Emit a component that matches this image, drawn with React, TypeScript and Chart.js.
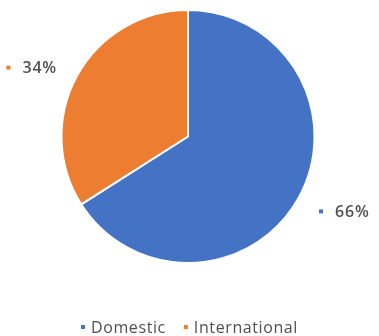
import React, { useEffect, useRef } from "react";
import { Chart, registerables } from "chart.js";
Chart.register(...registerables);

const categories = ["Domestic", "International"];
const values = [66, 34];
const valueLabels = ["66%", "34%"];
const colors = ["#4472C4", "#ED7D31"];

const FONT = "'Open Sans', Lato, sans-serif";

const labelPlugin = {
  id: "outLabels",
  afterDraw(chart: any) {
    const ctx = chart.ctx;
    const meta = chart.getDatasetMeta(0);
    ctx.save();
    ctx.font = `600 16px ${FONT}`;
    (ctx as any).letterSpacing = "0.8px";
    ctx.textBaseline = "middle";
    meta.data.forEach((arc: any, i: number) => {
      const mid = (arc.startAngle + arc.endAngle) / 2;
      const cx = arc.x + Math.cos(mid) * arc.outerRadius * 1.41;
      const cy = arc.y + Math.sin(mid) * arc.outerRadius * 1.18 + 3;
      const text = valueLabels[i];
      const tw = ctx.measureText(text).width;
      const total = 4 + 12 + tw;
      const x0 = cx - total / 2;
      ctx.fillStyle = colors[i];
      ctx.fillRect(x0, cy - 2, 4, 4);
      ctx.fillStyle = "#505050";
      ctx.textAlign = "left";
      ctx.fillText(text, x0 + 16, cy + 1);
    });
    // legend
    const ly = 327;
    ctx.font = `16px ${FONT}`;
    (ctx as any).letterSpacing = "0.6px";
    const widths = categories.map((c) => 4 + 6 + ctx.measureText(c).width);
    const gap = 18;
    const totalW = widths.reduce((a, b) => a + b, 0) + gap * (categories.length - 1);
    let x = chart.width / 2 - totalW / 2;
    categories.forEach((c, i) => {
      ctx.fillStyle = colors[i];
      ctx.fillRect(x, ly - 2, 4, 4);
      ctx.fillStyle = "#505050";
      ctx.textAlign = "left";
      ctx.fillText(c, x + 10, ly + 1);
      x += widths[i] + gap;
    });
    ctx.restore();
  },
};

export default function App() {
  const ref = useRef<HTMLCanvasElement>(null);
  useEffect(() => {
    if (!ref.current) return;
    const chart = new Chart(ref.current, {
      type: "pie",
      data: {
        labels: categories,
        datasets: [
          {
            data: values,
            backgroundColor: colors,
            borderColor: "#ffffff",
            borderWidth: 2,
          },
        ],
      },
      options: {
        animation: false,
        responsive: false,
        layout: { padding: { top: 9, bottom: 72, left: 40, right: 43 } },
        plugins: { legend: { display: false }, tooltip: { enabled: false } },
      },
      plugins: [labelPlugin],
    });
    return () => chart.destroy();
  }, []);
  return (
    <div style={{ position: "fixed", left: 0, top: 0, width: 379, height: 336, background: "#fff" }}>
      <canvas ref={ref} width={379} height={336} />
    </div>
  );
}
